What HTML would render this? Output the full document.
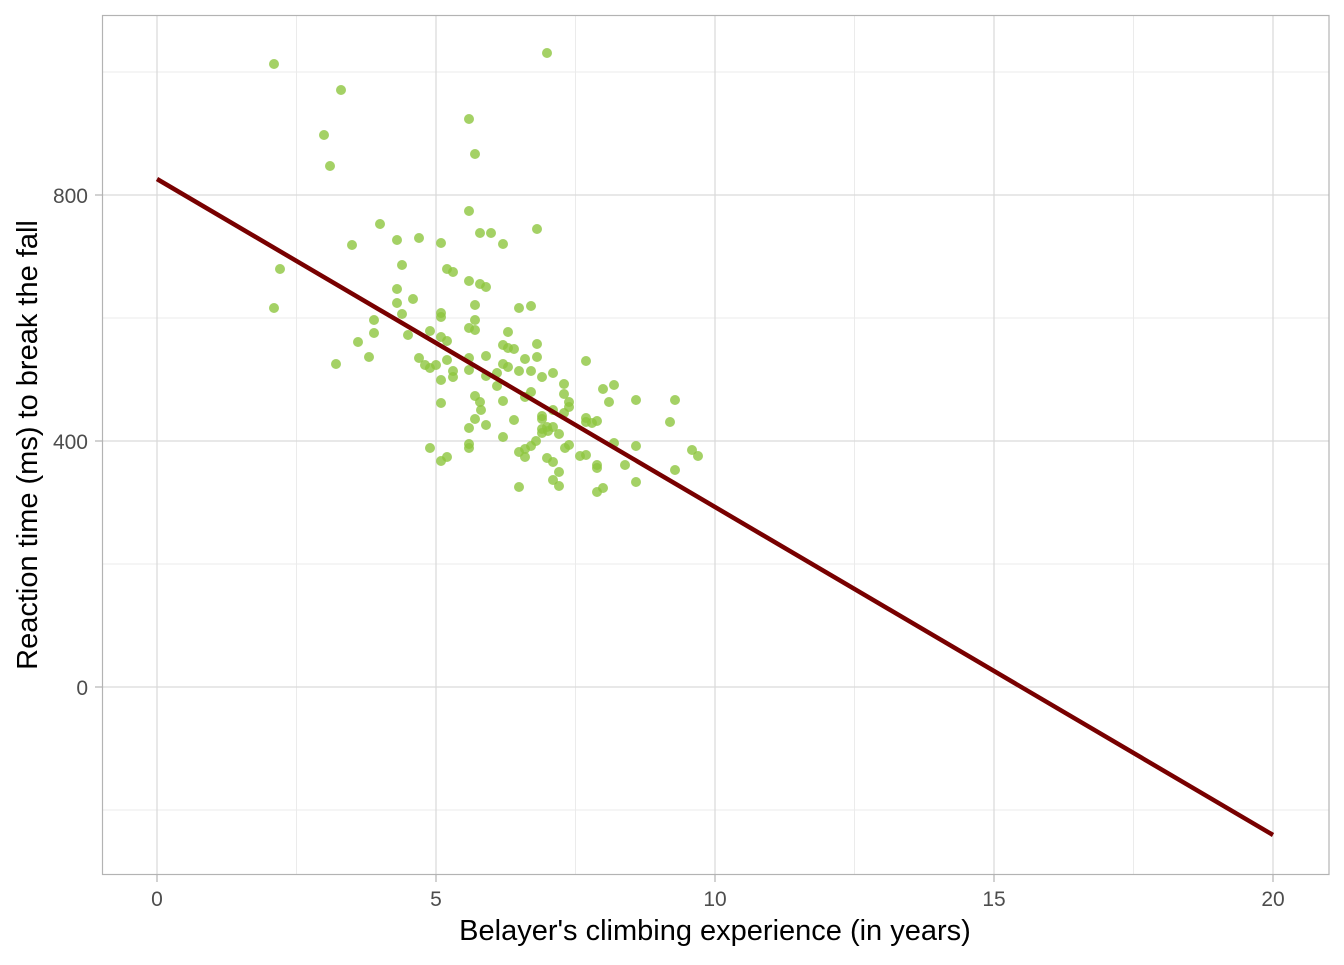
<!DOCTYPE html>
<html><head><meta charset="utf-8"><style>html,body{margin:0;padding:0;background:#fff}</style></head>
<body>
<svg width="1344" height="960" xmlns="http://www.w3.org/2000/svg" font-family="Liberation Sans, Arial, sans-serif">
<rect width="1344" height="960" fill="#fff"/>
<g stroke="#ebebeb" stroke-width="1">
<line x1="296.5" y1="15" x2="296.5" y2="874"/><line x1="575.5" y1="15" x2="575.5" y2="874"/><line x1="854.5" y1="15" x2="854.5" y2="874"/><line x1="1133.5" y1="15" x2="1133.5" y2="874"/>
<line x1="102" y1="72" x2="1329" y2="72"/><line x1="102" y1="318" x2="1329" y2="318"/><line x1="102" y1="564" x2="1329" y2="564"/><line x1="102" y1="810" x2="1329" y2="810"/>
</g>
<g stroke="#d9d9d9" stroke-width="1.2">
<line x1="157" y1="15" x2="157" y2="874"/><line x1="436" y1="15" x2="436" y2="874"/><line x1="715" y1="15" x2="715" y2="874"/><line x1="994" y1="15" x2="994" y2="874"/><line x1="1273" y1="15" x2="1273" y2="874"/>
<line x1="102" y1="195" x2="1329" y2="195"/><line x1="102" y1="441" x2="1329" y2="441"/><line x1="102" y1="687" x2="1329" y2="687"/>
</g>
<g fill="rgb(141,198,63)" fill-opacity="0.8">
<circle cx="274" cy="64" r="5"/><circle cx="547" cy="53" r="5"/><circle cx="341" cy="90" r="5"/><circle cx="324" cy="135" r="5"/><circle cx="330" cy="166" r="5"/><circle cx="469" cy="119" r="5"/><circle cx="475" cy="154" r="5"/><circle cx="380" cy="224" r="5"/><circle cx="352" cy="245" r="5"/><circle cx="397" cy="240" r="5"/><circle cx="419" cy="238" r="5"/><circle cx="441" cy="243" r="5"/><circle cx="469" cy="211" r="5"/><circle cx="480" cy="233" r="5"/><circle cx="491" cy="233" r="5"/><circle cx="503" cy="244" r="5"/><circle cx="537" cy="229" r="5"/><circle cx="280" cy="269" r="5"/><circle cx="274" cy="308" r="5"/><circle cx="402" cy="265" r="5"/><circle cx="447" cy="269" r="5"/><circle cx="453" cy="272" r="5"/><circle cx="469" cy="281" r="5"/><circle cx="480" cy="284" r="5"/><circle cx="486" cy="287" r="5"/><circle cx="397" cy="289" r="5"/><circle cx="413" cy="299" r="5"/><circle cx="397" cy="303" r="5"/><circle cx="441" cy="313" r="5"/><circle cx="441" cy="317" r="5"/><circle cx="402" cy="314" r="5"/><circle cx="475" cy="305" r="5"/><circle cx="519" cy="308" r="5"/><circle cx="531" cy="306" r="5"/><circle cx="374" cy="320" r="5"/><circle cx="475" cy="320" r="5"/><circle cx="469" cy="328" r="5"/><circle cx="475" cy="330" r="5"/><circle cx="508" cy="332" r="5"/><circle cx="430" cy="331" r="5"/><circle cx="374" cy="333" r="5"/><circle cx="441" cy="337" r="5"/><circle cx="447" cy="341" r="5"/><circle cx="408" cy="335" r="5"/><circle cx="358" cy="342" r="5"/><circle cx="503" cy="345" r="5"/><circle cx="508" cy="348" r="5"/><circle cx="514" cy="349" r="5"/><circle cx="537" cy="344" r="5"/><circle cx="486" cy="356" r="5"/><circle cx="369" cy="357" r="5"/><circle cx="419" cy="358" r="5"/><circle cx="469" cy="358" r="5"/><circle cx="525" cy="359" r="5"/><circle cx="537" cy="357" r="5"/><circle cx="586" cy="361" r="5"/><circle cx="336" cy="364" r="5"/><circle cx="425" cy="365" r="5"/><circle cx="430" cy="368" r="5"/><circle cx="436" cy="365" r="5"/><circle cx="447" cy="360" r="5"/><circle cx="503" cy="364" r="5"/><circle cx="508" cy="367" r="5"/><circle cx="453" cy="371" r="5"/><circle cx="453" cy="377" r="5"/><circle cx="469" cy="370" r="5"/><circle cx="497" cy="373" r="5"/><circle cx="519" cy="371" r="5"/><circle cx="531" cy="371" r="5"/><circle cx="542" cy="377" r="5"/><circle cx="553" cy="373" r="5"/><circle cx="486" cy="376" r="5"/><circle cx="441" cy="380" r="5"/><circle cx="564" cy="384" r="5"/><circle cx="497" cy="386" r="5"/><circle cx="564" cy="394" r="5"/><circle cx="531" cy="392" r="5"/><circle cx="525" cy="397" r="5"/><circle cx="603" cy="389" r="5"/><circle cx="614" cy="385" r="5"/><circle cx="475" cy="396" r="5"/><circle cx="480" cy="402" r="5"/><circle cx="503" cy="401" r="5"/><circle cx="569" cy="402" r="5"/><circle cx="569" cy="407" r="5"/><circle cx="609" cy="402" r="5"/><circle cx="636" cy="400" r="5"/><circle cx="675" cy="400" r="5"/><circle cx="441" cy="403" r="5"/><circle cx="481" cy="410" r="5"/><circle cx="553" cy="410" r="5"/><circle cx="564" cy="413" r="5"/><circle cx="475" cy="419" r="5"/><circle cx="486" cy="425" r="5"/><circle cx="514" cy="420" r="5"/><circle cx="542" cy="416" r="5"/><circle cx="542" cy="419" r="5"/><circle cx="586" cy="418" r="5"/><circle cx="586" cy="422" r="5"/><circle cx="592" cy="423" r="5"/><circle cx="597" cy="421" r="5"/><circle cx="670" cy="422" r="5"/><circle cx="469" cy="428" r="5"/><circle cx="542" cy="429" r="5"/><circle cx="547" cy="427" r="5"/><circle cx="553" cy="427" r="5"/><circle cx="559" cy="434" r="5"/><circle cx="542" cy="433" r="5"/><circle cx="548" cy="431" r="5"/><circle cx="503" cy="437" r="5"/><circle cx="536" cy="441" r="5"/><circle cx="531" cy="446" r="5"/><circle cx="525" cy="449" r="5"/><circle cx="569" cy="445" r="5"/><circle cx="614" cy="443" r="5"/><circle cx="636" cy="446" r="5"/><circle cx="469" cy="444" r="5"/><circle cx="469" cy="448" r="5"/><circle cx="430" cy="448" r="5"/><circle cx="519" cy="452" r="5"/><circle cx="525" cy="457" r="5"/><circle cx="547" cy="458" r="5"/><circle cx="580" cy="456" r="5"/><circle cx="586" cy="455" r="5"/><circle cx="565" cy="448" r="5"/><circle cx="692" cy="450" r="5"/><circle cx="698" cy="456" r="5"/><circle cx="447" cy="457" r="5"/><circle cx="441" cy="461" r="5"/><circle cx="553" cy="462" r="5"/><circle cx="597" cy="465" r="5"/><circle cx="597" cy="468" r="5"/><circle cx="625" cy="465" r="5"/><circle cx="559" cy="472" r="5"/><circle cx="675" cy="470" r="5"/><circle cx="553" cy="480" r="5"/><circle cx="559" cy="486" r="5"/><circle cx="636" cy="482" r="5"/><circle cx="519" cy="487" r="5"/><circle cx="603" cy="488" r="5"/><circle cx="597" cy="492" r="5"/>
</g>
<line x1="157" y1="179" x2="1273" y2="835" stroke="#780000" stroke-width="4.5"/>
<rect x="102.5" y="15.5" width="1226.5" height="859" fill="none" stroke="#b3b3b3" stroke-width="1.2"/>
<g stroke="#b3b3b3" stroke-width="1.2">
<line x1="157" y1="875" x2="157" y2="882"/><line x1="436" y1="875" x2="436" y2="882"/><line x1="715" y1="875" x2="715" y2="882"/><line x1="994" y1="875" x2="994" y2="882"/><line x1="1273" y1="875" x2="1273" y2="882"/>
<line x1="95" y1="195" x2="102" y2="195"/><line x1="95" y1="441" x2="102" y2="441"/><line x1="95" y1="687" x2="102" y2="687"/>
</g>
<g fill="#4d4d4d" font-size="21" text-anchor="middle">
<text x="157" y="906">0</text><text x="436" y="906">5</text><text x="715" y="906">10</text><text x="994" y="906">15</text><text x="1273" y="906">20</text>
</g>
<g fill="#4d4d4d" font-size="21" text-anchor="end">
<text x="88" y="203">800</text><text x="88" y="449">400</text><text x="88" y="695">0</text>
</g>
<text x="715" y="940" font-size="29" text-anchor="middle" fill="#000">Belayer's climbing experience (in years)</text>
<text transform="translate(37,445) rotate(-90)" font-size="29" text-anchor="middle" fill="#000">Reaction time (ms) to break the fall</text>
</svg>
</body></html>
